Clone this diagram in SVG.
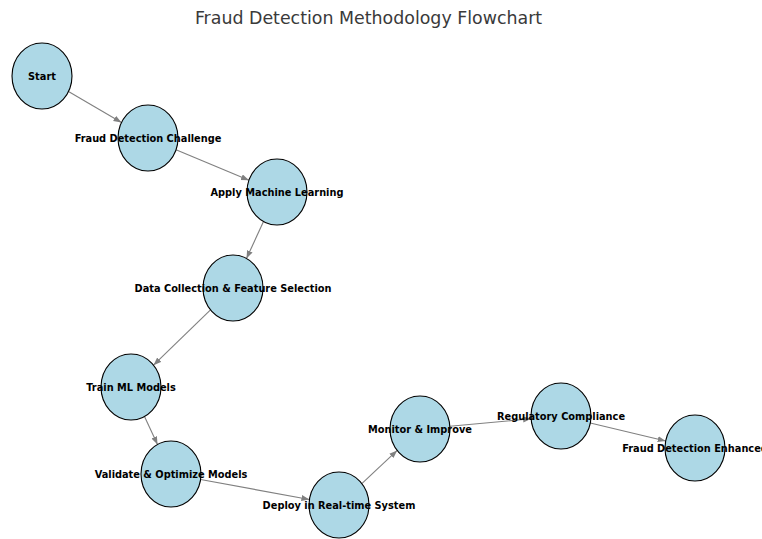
<svg xmlns="http://www.w3.org/2000/svg" width="762" height="539" viewBox="0 0 762 539">
<style>
.n ellipse{fill:#add8e6;stroke:#000;stroke-width:1.1}
.n text{font-family:"DejaVu Sans",sans-serif;font-weight:bold;font-size:9.8px;fill:#000;text-anchor:middle}
.e line{stroke:#808080;stroke-width:1.1}
.t{font-family:"DejaVu Sans",sans-serif;font-size:17.4px;fill:#3a3a3a;text-anchor:middle}
</style>
<defs>
<marker id="ah" markerUnits="userSpaceOnUse" markerWidth="10" markerHeight="8" refX="8" refY="3" orient="auto">
<path d="M0,0 L8,3 L0,6 z" fill="#808080"/>
</marker>
</defs>
<rect width="762" height="539" fill="#fff"/>
<text class="t" x="368.5" y="24">Fraud Detection Methodology Flowchart</text>
<g class="e">
<line x1="68.5" y1="91.5" x2="121.5" y2="122.5" marker-end="url(#ah)"/>
<line x1="176" y1="149.7" x2="249" y2="180.3" marker-end="url(#ah)"/>
<line x1="263.5" y1="221.5" x2="246.5" y2="258.5" marker-end="url(#ah)"/>
<line x1="210.5" y1="309.8" x2="153.5" y2="365.2" marker-end="url(#ah)"/>
<line x1="144.5" y1="416.4" x2="157.5" y2="444.6" marker-end="url(#ah)"/>
<line x1="200.6" y1="479.5" x2="309.4" y2="499.5" marker-end="url(#ah)"/>
<line x1="361.8" y1="483.6" x2="397.2" y2="450.4" marker-end="url(#ah)"/>
<line x1="449.9" y1="426.2" x2="531.1" y2="418.8" marker-end="url(#ah)"/>
<line x1="590.3" y1="423" x2="665.7" y2="441" marker-end="url(#ah)"/>
</g>
<g id="start" class="n"><ellipse cx="42" cy="76" rx="30" ry="33"/><text x="42" y="79.5">Start</text></g>
<g id="challenge" class="n"><ellipse cx="148" cy="138" rx="30" ry="33"/><text x="148" y="141.5">Fraud Detection Challenge</text></g>
<g id="ml" class="n"><ellipse cx="277" cy="192" rx="30" ry="33"/><text x="277" y="195.5">Apply Machine Learning</text></g>
<g id="data" class="n"><ellipse cx="233" cy="288" rx="30" ry="33"/><text x="233" y="291.5">Data Collection &amp; Feature Selection</text></g>
<g id="train" class="n"><ellipse cx="131" cy="387" rx="30" ry="33"/><text x="131" y="390.5">Train ML Models</text></g>
<g id="validate" class="n"><ellipse cx="171" cy="474" rx="30" ry="33"/><text x="171" y="477.5">Validate &amp; Optimize Models</text></g>
<g id="deploy" class="n"><ellipse cx="339" cy="505" rx="30" ry="33"/><text x="339" y="508.5">Deploy in Real-time System</text></g>
<g id="monitor" class="n"><ellipse cx="420" cy="429" rx="30" ry="33"/><text x="420" y="432.5">Monitor &amp; Improve</text></g>
<g id="regulatory" class="n"><ellipse cx="561" cy="416" rx="30" ry="33"/><text x="561" y="419.5">Regulatory Compliance</text></g>
<g id="enhanced" class="n"><ellipse cx="695" cy="448" rx="30" ry="33"/><text x="695" y="451.5">Fraud Detection Enhanced</text></g>
</svg>
